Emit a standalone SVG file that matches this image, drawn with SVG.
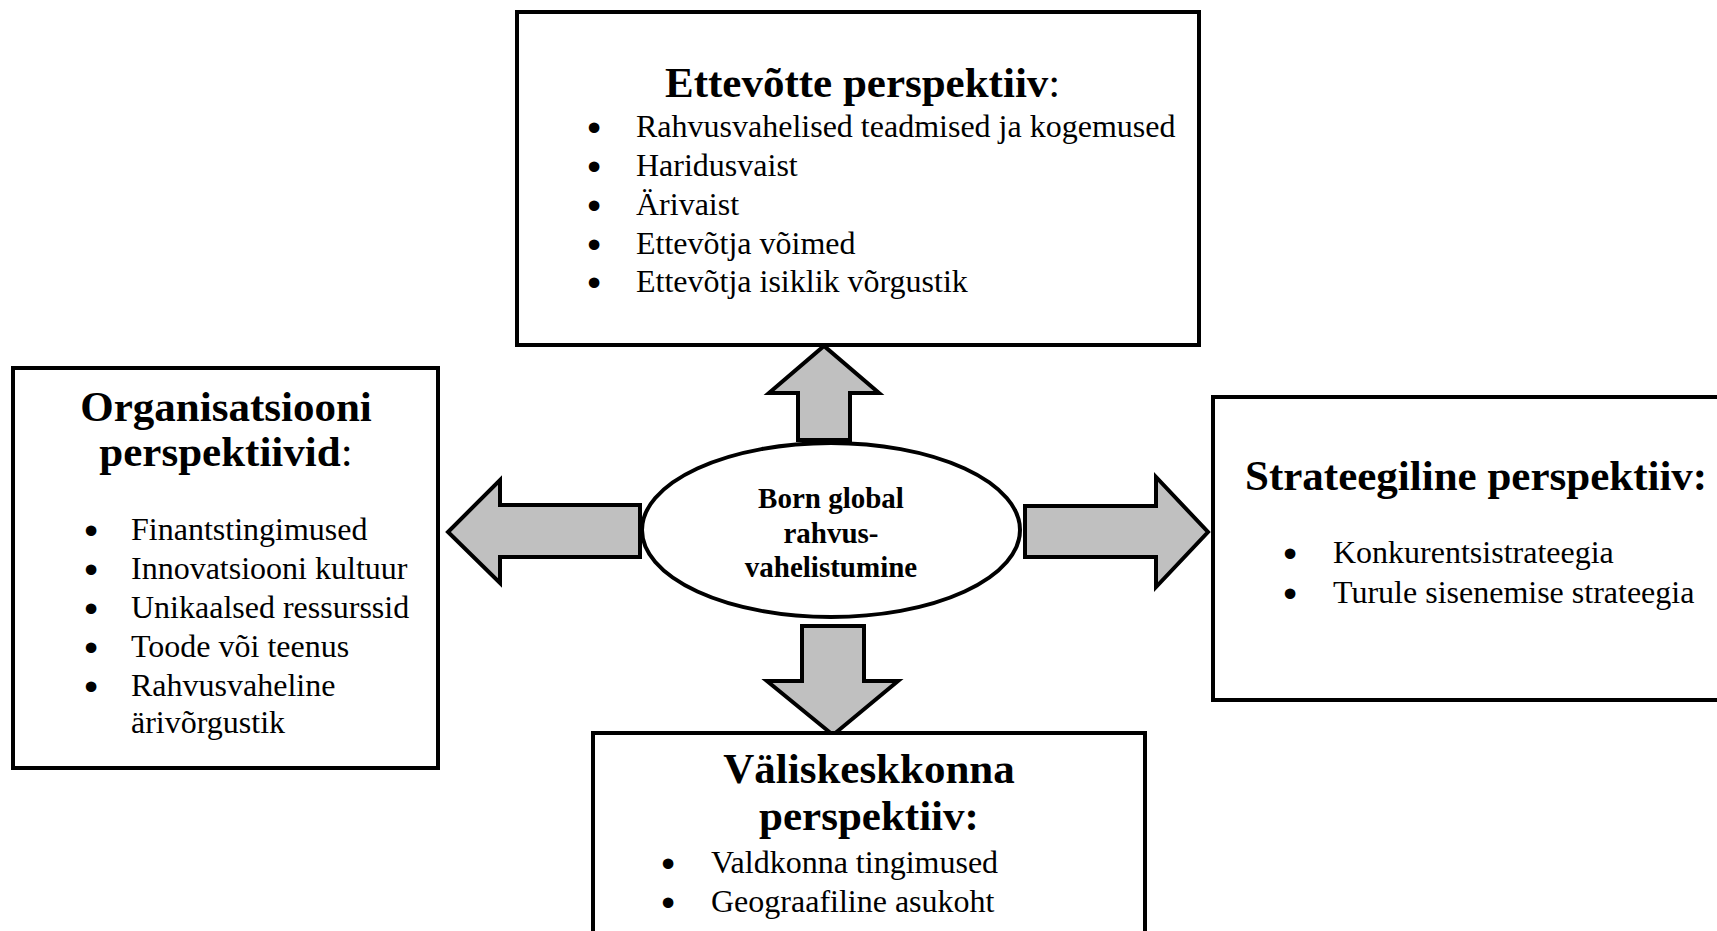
<svg xmlns="http://www.w3.org/2000/svg" width="1717" height="931" viewBox="0 0 1717 931">
<style>
.box{fill:#fff;stroke:#000;stroke-width:4}
.arr{fill:#c0c0c0;stroke:#000;stroke-width:4;stroke-linejoin:miter}
.ell{fill:#fff;stroke:#000;stroke-width:4}
.t{font-family:"Liberation Serif","Times New Roman",serif;font-weight:bold;font-size:43px;fill:#000}
.b{font-family:"Liberation Serif","Times New Roman",serif;font-size:32px;fill:#000}
.d{font-family:"Liberation Serif","Times New Roman",serif;font-size:32px;fill:#000;stroke:#000;stroke-width:3;text-anchor:middle}
.c{font-family:"Liberation Serif","Times New Roman",serif;font-weight:bold;font-size:29px;fill:#000}
.n{font-weight:normal}
</style>
<rect width="1717" height="931" fill="#fff"/>
<g id="connectors">
<polygon class="arr" points="798,440 798,393 769,393 824,346 879,393 850,393 850,440"/>
<polygon class="arr" points="802,626 864,626 864,681 898,681 833,735 767,681 802,681"/>
<polygon class="arr" points="640,505 500,505 500,480 448,532 500,583 500,557 640,557"/>
<polygon class="arr" points="1025,506 1156,506 1156,477 1208,532 1156,587 1156,557 1025,557"/>
</g>
<g id="center">
<ellipse class="ell" cx="831" cy="530" rx="189" ry="87"/>
<text class="c" x="831" y="508" text-anchor="middle">Born global</text>
<text class="c" x="831" y="543" text-anchor="middle">rahvus-</text>
<text class="c" x="831" y="577" text-anchor="middle">vahelistumine</text>
</g>
<g id="top">
<rect class="box" x="517" y="12" width="682" height="333"/>
<text class="t" x="665" y="97">Ettevõtte perspektiiv<tspan class="n">:</tspan></text>
<text class="d" x="594" y="139">•</text><text class="b" x="636" y="137">Rahvusvahelised teadmised ja kogemused</text>
<text class="d" x="594" y="178">•</text><text class="b" x="636" y="176">Haridusvaist</text>
<text class="d" x="594" y="217">•</text><text class="b" x="636" y="215">Ärivaist</text>
<text class="d" x="594" y="256">•</text><text class="b" x="636" y="254">Ettevõtja võimed</text>
<text class="d" x="594" y="294">•</text><text class="b" x="636" y="292">Ettevõtja isiklik võrgustik</text>
</g>
<g id="left">
<rect class="box" x="13" y="368" width="425" height="400"/>
<text class="t" x="226" y="421" text-anchor="middle">Organisatsiooni</text>
<text class="t" x="226" y="466" text-anchor="middle">perspektiivid<tspan class="n">:</tspan></text>
<text class="d" x="91" y="542">•</text><text class="b" x="131" y="540">Finantstingimused</text>
<text class="d" x="91" y="581">•</text><text class="b" x="131" y="579">Innovatsiooni kultuur</text>
<text class="d" x="91" y="620">•</text><text class="b" x="131" y="618">Unikaalsed ressurssid</text>
<text class="d" x="91" y="659">•</text><text class="b" x="131" y="657">Toode või teenus</text>
<text class="d" x="91" y="698">•</text><text class="b" x="131" y="696">Rahvusvaheline</text>
<text class="b" x="131" y="733">ärivõrgustik</text>
</g>
<g id="right">
<rect class="box" x="1213" y="397" width="530" height="303"/>
<text class="t" x="1245" y="490">Strateegiline perspektiiv:</text>
<text class="d" x="1290" y="565">•</text><text class="b" x="1333" y="563">Konkurentsistrateegia</text>
<text class="d" x="1290" y="605">•</text><text class="b" x="1333" y="603">Turule sisenemise strateegia</text>
</g>
<g id="bottom">
<rect class="box" x="593" y="733" width="552" height="260"/>
<text class="t" x="869" y="783" text-anchor="middle">Väliskeskkonna</text>
<text class="t" x="869" y="830" text-anchor="middle">perspektiiv:</text>
<text class="d" x="668" y="875">•</text><text class="b" x="711" y="873">Valdkonna tingimused</text>
<text class="d" x="668" y="914">•</text><text class="b" x="711" y="912">Geograafiline asukoht</text>
</g>
</svg>
